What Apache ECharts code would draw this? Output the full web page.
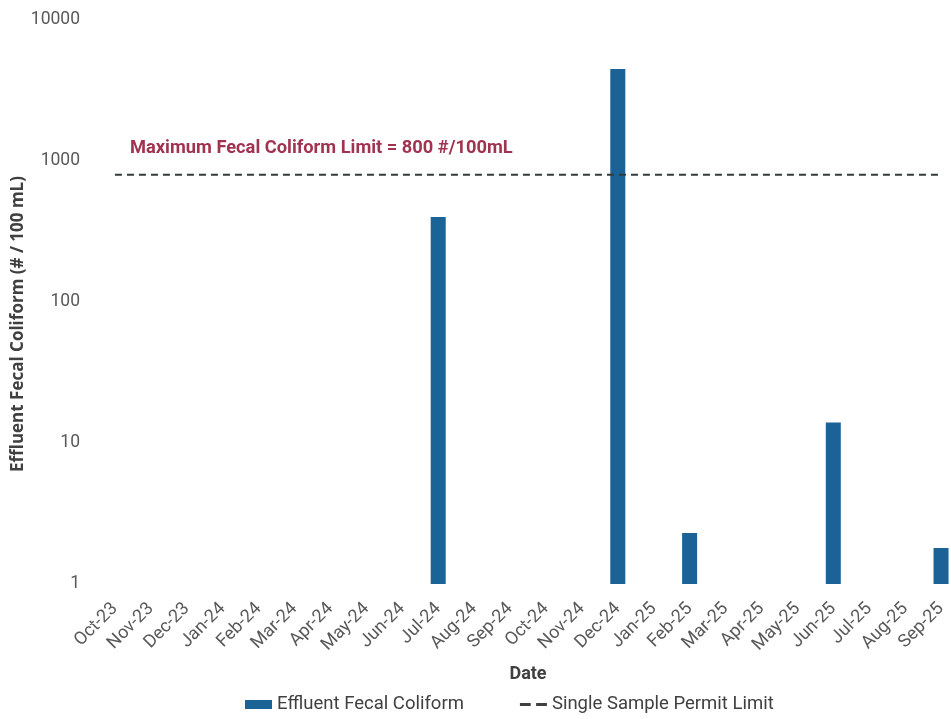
<!DOCTYPE html>
<html>
<head>
<meta charset="utf-8">
<script src="https://cdn.jsdelivr.net/npm/echarts@6/dist/echarts.min.js"></script>
<style>html,body{margin:0;padding:0;background:#fff}#c{width:951px;height:719px}</style>
</head>
<body>
<div id="c"></div>
<script>
const categories = ["Oct-23","Nov-23","Dec-23","Jan-24","Feb-24","Mar-24","Apr-24","May-24","Jun-24","Jul-24","Aug-24","Sep-24","Oct-24","Nov-24","Dec-24","Jan-25","Feb-25","Mar-25","Apr-25","May-25","Jun-25","Jul-25","Aug-25","Sep-25"];
const coliform = [1,1,1,1,1,1,1,1,1,400,1,1,1,1,4500,1,2.3,1,1,1,14,1,1,1.8];
const permitLimit = [800,800,800,800,800,800,800,800,800,800,800,800,800,800,800,800,800,800,800,800,800,800,800,800];
const yTicks = [1,10,100,1000,10000];
const annotation = "Maximum Fecal Coliform Limit = 800 #/100mL";

const FONT = "Roboto, 'Liberation Sans', sans-serif";
const chart = echarts.init(document.getElementById('c'));
chart.setOption({
  backgroundColor: '#ffffff',
  animation: false,
  textStyle: { fontFamily: FONT },
  grid: { left: 97, right: -8, top: 20, bottom: 135, containLabel: false, outerBoundsMode: 'none' },
  legend: {
    bottom: 0, left: 240, itemGap: 56, itemWidth: 27, itemHeight: 9,
    textStyle: { fontSize: 18.5, color: '#404040', fontFamily: FONT },
    data: [
      { name: 'Effluent Fecal Coliform', icon: 'rect' },
      { name: 'Single Sample Permit Limit', icon: 'path://M0,0h10v3h-10z M15,0h10v3h-10z',
        itemStyle: { color: '#404040' } }
    ]
  },
  xAxis: {
    type: 'category', data: categories,
    axisLine: { show: false }, axisTick: { show: false },
    axisLabel: { rotate: 45, fontSize: 18, color: '#595959', margin: 22, interval: 0 },
    name: 'Date', nameLocation: 'middle', nameGap: 81, nameMoveOverlap: false,
    nameTextStyle: { fontSize: 18, fontWeight: 'bold', color: '#404040' }
  },
  yAxis: {
    type: 'log', logBase: 10, min: 1, max: 10000,
    axisLine: { show: false }, axisTick: { show: false },
    splitLine: { show: false },
    axisLabel: { fontSize: 17.5, color: '#595959', margin: 17,
      formatter: v => yTicks.includes(Math.round(v)) ? String(Math.round(v)) : '' },
    name: 'Effluent Fecal Coliform (# / 100 mL)', nameLocation: 'middle', nameGap: 70, nameMoveOverlap: false,
    nameTextStyle: { fontSize: 17, fontWeight: 'bold', color: '#404040', fontFamily: "'Open Sans', Roboto, sans-serif",
      padding: [0, 44, 0, 0] }
  },
  series: [
    {
      name: 'Effluent Fecal Coliform', type: 'bar', data: coliform,
      barWidth: 15, itemStyle: { color: '#1b6296' }
    },
    {
      name: 'Single Sample Permit Limit', type: 'line', data: permitLimit,
      symbol: 'none', lineStyle: { color: '#333b3b', width: 2, type: [7, 5] },
      itemStyle: { color: '#333b3b' }
    }
  ],
  graphic: [{
    type: 'text', left: 130, top: 139,
    style: { text: annotation, fontSize: 18.3, fontWeight: 'bold', fill: '#a0334f', fontFamily: FONT }
  }]
});
</script>
</body>
</html>
